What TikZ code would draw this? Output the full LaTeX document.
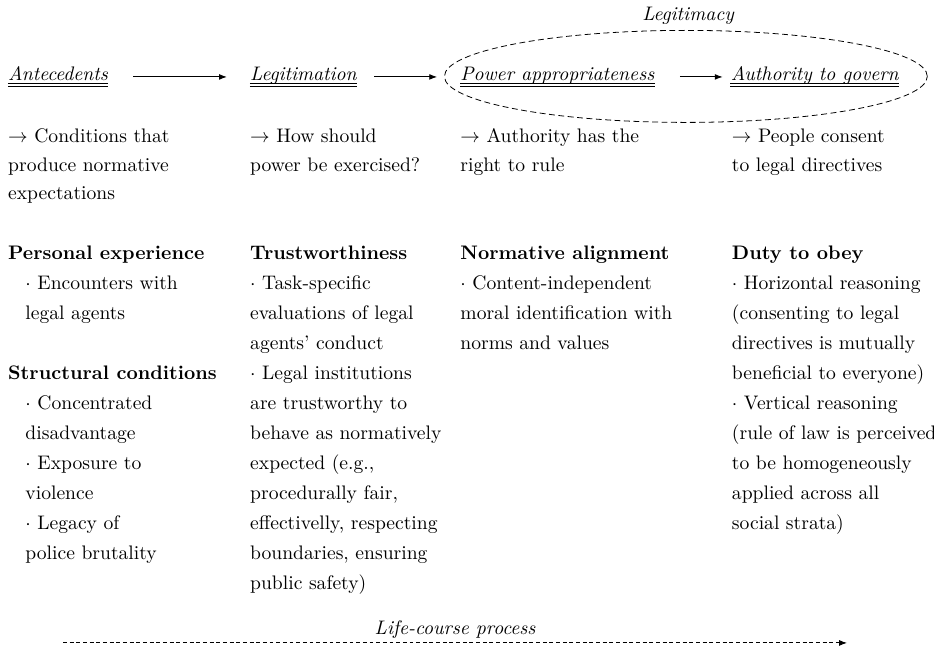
\documentclass[tikz,border=0pt]{standalone}
\usetikzlibrary{arrows.meta,shapes.geometric}
\tikzset{
  stage/.style={anchor=base west, inner sep=0pt, font=\itshape},
  line/.style={anchor=base west, inner sep=0pt},
  flow/.style={-{Latex[length=4pt,width=3pt]}, line width=0.45pt},
}
\begin{document}
\begin{tikzpicture}
  \useasboundingbox (0,0) rectangle (16.75,-11.69);
  % stages
  \node[stage] (ante) at (0.14,-1.45) {Antecedents};
  \node[stage] (legi) at (4.48,-1.45) {Legitimation};
  \node[stage] (pow)  at (8.25,-1.45) {Power appropriateness};
  \node[stage] (auth) at (13.10,-1.45) {Authority to govern};
  \foreach \n in {ante,legi,pow,auth}{%
    \draw[line width=0.4pt] ([yshift=-1.4pt]\n.base west) -- ([yshift=-1.4pt]\n.base east);
    \draw[line width=0.4pt] ([yshift=-2.8pt]\n.base west) -- ([yshift=-2.8pt]\n.base east);
  }
  \draw[flow, shorten <=12.7pt, shorten >=11.7pt] ([yshift=2pt]ante.base east) -- ([yshift=2pt]legi.base west);
  \draw[flow, shorten <=8.7pt, shorten >=11.7pt] ([yshift=2pt]legi.base east) -- ([yshift=2pt]pow.base west);
  \draw[flow, shorten <=12.8pt, shorten >=4pt] ([yshift=2pt]pow.base east) -- ([yshift=2pt]auth.base west);
  % legitimacy
  \node[draw, dashed, dash pattern=on 3pt off 1.8pt, ellipse, minimum width=8.66cm, minimum height=1.65cm] (legit) at (12.30,-1.37) {};
  \node[anchor=base, font=\itshape] (lgy) at (12.34,-0.36) {Legitimacy};

  % what each stage means
  \foreach \t [count=\r from 0] in {{$\rightarrow$ Conditions that},{produce normative},{expectations}}{%
    \node[line] (ante\r) at (0.14,{-2.56-\r*0.51}) {\t};
  }
  \foreach \t [count=\r from 0] in {{$\rightarrow$ How should},{power be exercised?}}{%
    \node[line] (legi\r) at (4.48,{-2.56-\r*0.51}) {\t};
  }
  \foreach \t [count=\r from 0] in {{$\rightarrow$ Authority has the},{right to rule}}{%
    \node[line] (pow\r) at (8.25,{-2.56-\r*0.51}) {\t};
  }
  \foreach \t [count=\r from 0] in {{$\rightarrow$ People consent},{to legal directives}}{%
    \node[line] (auth\r) at (13.12,{-2.56-\r*0.51}) {\t};
  }

  % antecedents
  \node[line, font=\bfseries] (pers) at (0.14,-4.66) {Personal experience};
  \foreach \t [count=\r from 1] in {{$\cdot$ Encounters with},{legal agents}}{%
    \node[line] (pers\r) at (0.45,{-4.66-\r*0.538}) {\t};
  }
  \node[line, font=\bfseries] (stru) at (0.14,{-4.66-4*0.538}) {Structural conditions};
  \foreach \t [count=\r from 5] in {{$\cdot$ Concentrated},{disadvantage},{$\cdot$ Exposure to},{violence},{$\cdot$ Legacy of},{police brutality}}{%
    \node[line] (stru\r) at (0.45,{-4.66-\r*0.538}) {\t};
  }
  % legitimation
  \foreach \t [count=\r from 0] in {{\textbf{Trustworthiness}},{$\cdot$ Task-specific},{evaluations of legal},{agents' conduct},{$\cdot$ Legal institutions},{are trustworthy to},{behave as normatively},{expected (e.g.,},{procedurally fair,},{effectivelly, respecting},{boundaries, ensuring},{public safety)}}{%
    \node[line] (trus\r) at (4.48,{-4.66-\r*0.538}) {\t};
  }
  % power appropriateness
  \foreach \t [count=\r from 0] in {{\textbf{Normative alignment}},{$\cdot$ Content-independent},{moral identification with},{norms and values}}{%
    \node[line] (norm\r) at (8.25,{-4.66-\r*0.538}) {\t};
  }
  % authority to govern
  \foreach \t [count=\r from 0] in {{\textbf{Duty to obey}},{$\cdot$ Horizontal reasoning},{(consenting to legal},{directives is mutually},{beneficial to everyone)},{$\cdot$ Vertical reasoning},{(rule of law is perceived},{to be homogeneously},{applied across all},{social strata)}}{%
    \node[line] (duty\r) at (13.12,{-4.66-\r*0.538}) {\t};
  }

  % life course
  \coordinate (lcs) at (1.13,-11.53);
  \coordinate (lce) at (15.19,-11.53);
  \draw[flow, dash pattern=on 2pt off 1.4pt] (lcs) -- node[above, inner sep=2pt, font=\itshape] (lcp) {Life-course process} (lce);
\end{tikzpicture}
\end{document}
